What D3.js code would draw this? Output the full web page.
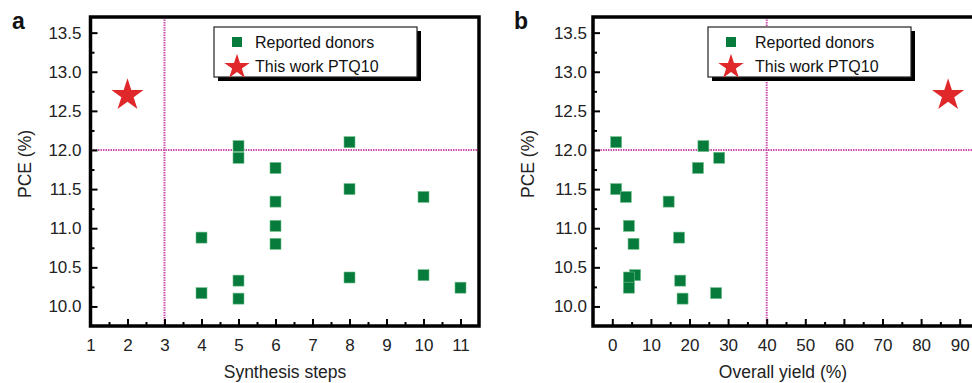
<!DOCTYPE html>
<html lang='en'>
  <head>
    <meta charset='utf-8'>
    <title>PCE vs synthesis steps / overall yield</title>
    <script type='text/javascript' src='https://cdn.jsdelivr.net/npm/d3@7'></script>
    <style type='text/css'>
    body { margin: 0; background: #fff; }
    svg { display: block; font-family: 'Liberation Sans', Arial, sans-serif; }
    .axis path { display: none; }
    .axis line { stroke: #000; stroke-width: 2; }
    .axis text { font-size: 17px; fill: #222; }
    .title { font-size: 17.5px; fill: #222; }
    .leg text { font-size: 16px; fill: #111; }
    </style>
  </head>
  <body>
    <script type='text/javascript'>

    // panel a: synthesis steps vs PCE
    var stepsX   = [4, 4, 5, 5, 5, 5, 6, 6, 6, 6, 8, 8, 8, 10, 10, 11];
    var stepsPCE = [10.88, 10.17, 12.05, 11.9, 10.33, 10.1, 11.77, 11.34, 11.03, 10.8, 12.1, 11.5, 10.37, 11.4, 10.4, 10.24];
    var stepsPTQ10 = [2, 12.7];

    // panel b: overall yield vs PCE
    var yieldX   = [1, 23.6, 27.7, 22.2, 1, 3.5, 14.6, 4.3, 5.5, 17.3, 5.9, 4.3, 4.3, 17.6, 18.2, 26.9];
    var yieldPCE = [12.1, 12.05, 11.9, 11.77, 11.5, 11.4, 11.34, 11.03, 10.8, 10.88, 10.4, 10.37, 10.24, 10.33, 10.1, 10.17];
    var yieldPTQ10 = [87, 12.7];

    var pceTicks = [10.0, 10.5, 11.0, 11.5, 12.0, 12.5, 13.0, 13.5];
    var pceMinor = [10.25, 10.75, 11.25, 11.75, 12.25, 12.75, 13.25];
    var stepTicks = [1, 2, 3, 4, 5, 6, 7, 8, 9, 10, 11];
    var stepMinor = [1.5, 2.5, 3.5, 4.5, 5.5, 6.5, 7.5, 8.5, 9.5, 10.5];
    var yieldTicks = [0, 10, 20, 30, 40, 50, 60, 70, 80, 90];
    var yieldMinor = [5, 15, 25, 35, 45, 55, 65, 75, 85];

    var legendLabels = ['Reported donors', 'This work PTQ10'];

    var w = 972, h = 383;
    var green = '#077b3c', red = '#e0282b', magenta = '#cc4fae';

    var svg = d3.select('body').append('svg')
                .attr('width', w).attr('height', h);

    var star = d3.symbol().type(d3.symbolStar);

    function panel(p){
      var g = svg.append('g');
      var x = d3.scaleLinear().domain(p.xDomain).range([p.left, p.right]);
      var y = d3.scaleLinear().domain([9.75, 13.7]).range([326, 17]);

      // reference lines
      g.append('line')
       .attr('x1', x(p.xRef)).attr('x2', x(p.xRef))
       .attr('y1', y.range()[1]).attr('y2', y.range()[0])
       .attr('stroke', magenta).attr('stroke-width', 2).attr('stroke-dasharray', '1.5,1');
      g.append('line')
       .attr('x1', p.left).attr('x2', p.right)
       .attr('y1', y(12)).attr('y2', y(12))
       .attr('stroke', magenta).attr('stroke-width', 2).attr('stroke-dasharray', '1.5,1');

      // axes (inward ticks)
      g.append('g').attr('class', 'axis')
       .attr('transform', 'translate(' + p.left + ',0)')
       .call(d3.axisLeft(y).tickValues(pceTicks).tickSize(-7).tickPadding(p.yPad)
               .tickFormat(d3.format('.1f')));
      g.append('g').attr('class', 'axis')
       .attr('transform', 'translate(' + p.left + ',0)')
       .call(d3.axisLeft(y).tickValues(pceMinor).tickSize(-4).tickFormat(''));
      g.append('g').attr('class', 'axis')
       .attr('transform', 'translate(0,326)')
       .call(d3.axisBottom(x).tickValues(p.xTicks).tickSize(-7).tickPadding(13)
               .tickFormat(d3.format('d')));
      g.append('g').attr('class', 'axis')
       .attr('transform', 'translate(0,326)')
       .call(d3.axisBottom(x).tickValues(p.xMinor).tickSize(-4).tickFormat(''));

      // frame
      g.append('rect')
       .attr('x', p.left).attr('y', 17)
       .attr('width', p.right - p.left).attr('height', 309)
       .attr('fill', 'none').attr('stroke', '#000').attr('stroke-width', 3.5);

      // points
      g.selectAll('rect.pt')
       .data(p.xs)
       .enter()
       .append('rect')
       .attr('class', 'pt')
       .attr('x', function(d){ return x(d) - 5.5; })
       .attr('y', function(d, i){ return y(p.ys[i]) - 5.5; })
       .attr('width', 11).attr('height', 11)
       .attr('fill', green)
       .attr('stroke', '#6fbf8a').attr('stroke-width', 0.6);

      g.append('path')
       .attr('d', star.size(320)())
       .attr('transform', 'translate(' + x(p.star[0]) + ',' + y(p.star[1]) + ')')
       .attr('fill', red);

      // legend
      var leg = g.append('g').attr('class', 'leg')
                 .attr('transform', 'translate(' + p.legX + ',27)');
      leg.append('rect').attr('x', 4).attr('y', 4).attr('width', 203).attr('height', 50).attr('fill', '#000');
      leg.append('rect').attr('x', 0).attr('y', 0).attr('width', 203).attr('height', 50)
         .attr('fill', '#fff').attr('stroke', '#222').attr('stroke-width', 1.2);
      leg.append('rect').attr('x', 18).attr('y', 10).attr('width', 10).attr('height', 10).attr('fill', green);
      leg.append('path').attr('d', star.size(200)())
         .attr('transform', 'translate(23,40)').attr('fill', red);
      leg.selectAll('text.l')
         .data(legendLabels)
         .enter()
         .append('text')
         .attr('class', 'l')
         .attr('x', p.legTextX)
         .attr('y', function(d, i){ return 21 + i * 24; })
         .text(function(d){ return d; });

      // titles
      svg.append('text').attr('class', 'title')
         .attr('text-anchor', 'middle')
         .attr('x', p.xTitleX).attr('y', 378)
         .text(p.xTitle);
      svg.append('text').attr('class', 'title')
         .attr('text-anchor', 'middle')
         .attr('transform', 'translate(' + p.yTitleX + ',164) rotate(-90)')
         .text('PCE (%)');
      svg.append('text')
         .attr('x', p.letterX).attr('y', 29)
         .attr('font-size', '23px').attr('font-weight', 'bold').attr('fill', '#111')
         .text(p.letter);
    }

    panel({
      xDomain: [1, 11.5], left: 90.5, right: 479,
      xTicks: stepTicks, xMinor: stepMinor, xRef: 3,
      xs: stepsX, ys: stepsPCE, star: stepsPTQ10,
      legX: 214, legTextX: 41, yPad: 9,
      xTitle: 'Synthesis steps', xTitleX: 285, yTitleX: 31,
      letter: 'a', letterX: 12
    });

    panel({
      xDomain: [-5, 95], left: 593, right: 979,
      xTicks: yieldTicks, xMinor: yieldMinor, xRef: 40,
      xs: yieldX, ys: yieldPCE, star: yieldPTQ10,
      legX: 708, legTextX: 47, yPad: 6,
      xTitle: 'Overall yield (%)', xTitleX: 783, yTitleX: 534,
      letter: 'b', letterX: 514
    });

    </script>
  </body>
</html>
